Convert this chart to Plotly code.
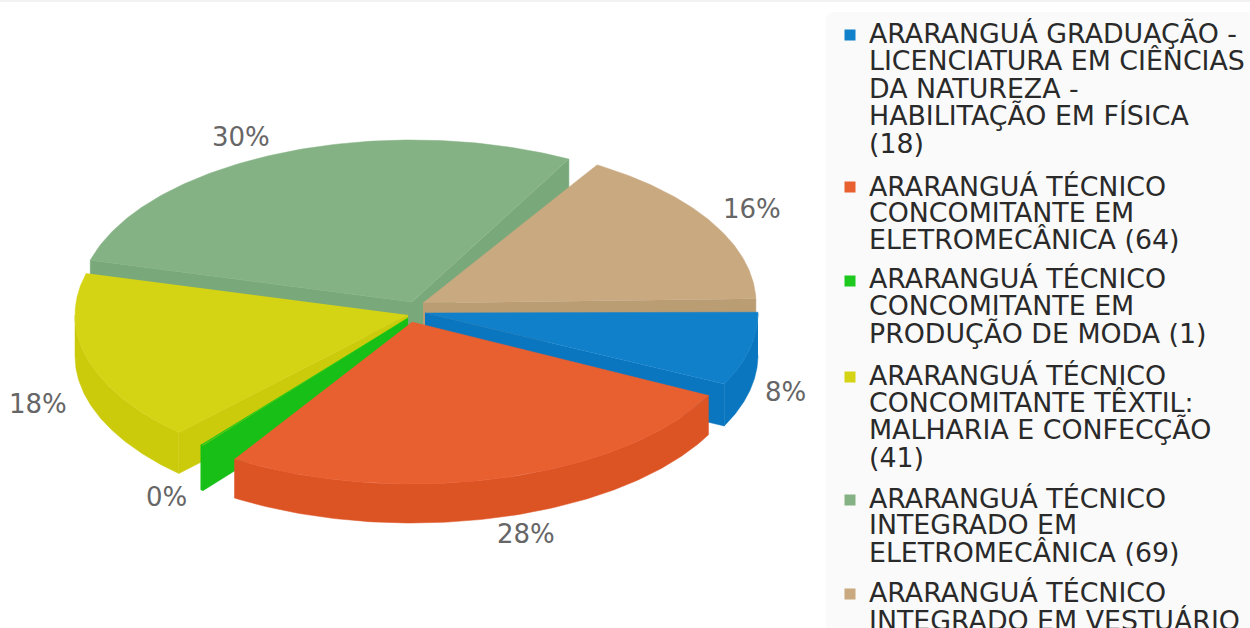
import numpy as np
import plotly.graph_objects as go

# ---- data
categories = [
    "ARARANGUÁ GRADUAÇÃO - LICENCIATURA EM CIÊNCIAS DA NATUREZA - HABILITAÇÃO EM FÍSICA",
    "ARARANGUÁ TÉCNICO CONCOMITANTE EM ELETROMECÂNICA",
    "ARARANGUÁ TÉCNICO CONCOMITANTE EM PRODUÇÃO DE MODA",
    "ARARANGUÁ TÉCNICO CONCOMITANTE TÊXTIL: MALHARIA E CONFECÇÃO",
    "ARARANGUÁ TÉCNICO INTEGRADO EM ELETROMECÂNICA",
    "ARARANGUÁ TÉCNICO INTEGRADO EM VESTUÁRIO",
]
values = [18, 64, 1, 41, 69, 36]
legend_lines = [
    ["ARARANGUÁ GRADUAÇÃO -", "LICENCIATURA EM CIÊNCIAS", "DA NATUREZA -", "HABILITAÇÃO EM FÍSICA", "(18)"],
    ["ARARANGUÁ TÉCNICO", "CONCOMITANTE EM", "ELETROMECÂNICA (64)"],
    ["ARARANGUÁ TÉCNICO", "CONCOMITANTE EM", "PRODUÇÃO DE MODA (1)"],
    ["ARARANGUÁ TÉCNICO", "CONCOMITANTE TÊXTIL:", "MALHARIA E CONFECÇÃO", "(41)"],
    ["ARARANGUÁ TÉCNICO", "INTEGRADO EM", "ELETROMECÂNICA (69)"],
    ["ARARANGUÁ TÉCNICO", "INTEGRADO EM VESTUÁRIO"],
]

# ---- styles and layout of the drawing
top_colors = ["#1180cb", "#e85f30", "#1dc91d", "#d4d415", "#85b285", "#c8a980"]
side_colors = ["#0a76c0", "#dc5324", "#17bf17", "#cbcb0c", "#79a87a", "#bb9d74"]
apex_x = [425, 412, 408, 408, 412, 423]
apex_y = [313, 322, 318, 315, 302, 303]
nudge_start = [-0.5, -1.3, -0.9, 3.0, 0.0, -1.9]
nudge_end = [-2.3, -6.7, -2.0, 0.0, -5.3, -1.5]
depths = [42, 39, 45, 41, 40, 40]
draw_order = [4, 5, 0, 3, 2, 1]
RX, RY = 333, 162
label_x = [785, 526, 166, 38, 241, 752]
label_y = [392, 534, 497, 404, 137, 209]
legend_swatch_y = [35, 187, 281, 377, 500, 594]
legend_line_y = [
    [33, 60, 88, 115, 143],
    [186, 212, 239],
    [278, 305, 333],
    [375, 402, 429, 457],
    [498, 524, 552],
    [592, 620],
]
FONT = "DejaVu Sans"
W, H = 1250, 628

total = sum(values)
edges = np.cumsum([0] + values) / total * 360.0


def poly(fig, xs, ys, color):
    fig.add_trace(go.Scatter(x=list(xs), y=list(ys), mode="lines", fill="toself",
                             fillcolor=color, line=dict(color=color, width=0.5),
                             hoverinfo="skip", showlegend=False))


fig = go.Figure()
for i in draw_order:
    a0 = edges[i] + nudge_start[i]
    a1 = edges[i + 1] + nudge_end[i]
    cx, cy, d = apex_x[i], apex_y[i], depths[i]
    th = np.radians(np.linspace(a0, a1, 120))
    ax = cx + RX * np.cos(th)
    ay = cy + RY * np.sin(th)
    # radial cut faces that look towards the viewer
    if np.cos(th[0]) < 0:
        poly(fig, [cx, ax[0], ax[0], cx], [cy, ay[0], ay[0] + d, cy + d], side_colors[i])
    if np.cos(th[-1]) > 0:
        poly(fig, [cx, ax[-1], ax[-1], cx], [cy, ay[-1], ay[-1] + d, cy + d], side_colors[i])
    # outer wall, front half only
    front = np.sin(th) > 0
    if front.any():
        fx, fy = ax[front], ay[front]
        poly(fig, np.r_[fx, fx[::-1]], np.r_[fy, fy[::-1] + d], side_colors[i])
    # top face
    poly(fig, np.r_[cx, ax], np.r_[cy, ay], top_colors[i])

# legend swatches
fig.add_trace(go.Scatter(x=[850] * len(values), y=legend_swatch_y, mode="markers",
                         marker=dict(symbol="square", size=11, color=top_colors, line=dict(width=0)),
                         hoverinfo="skip", showlegend=False))

annotations = []
for i, v in enumerate(values):
    annotations.append(dict(x=label_x[i], y=label_y[i], text=f"{round(v / total * 100)}%",
                            showarrow=False, xanchor="center", yanchor="middle",
                            font=dict(family=FONT, size=26, color="#666666")))
for ys, lines in zip(legend_line_y, legend_lines):
    for y, line in zip(ys, lines):
        annotations.append(dict(x=867, y=y, text=line, showarrow=False,
                                xanchor="left", yanchor="middle",
                                font=dict(family=FONT, size=26.8, color="#2a2a2a")))

shapes = [
    dict(type="path", path=f"M 826 {H + 5} L 826 20 Q 826 12 834 12 L {W + 5} 12 L {W + 5} {H + 5} Z",
         fillcolor="#fafafa", line=dict(width=0), layer="below"),
    dict(type="rect", x0=0, x1=W, y0=0, y1=2, fillcolor="#f2f2f2", line=dict(width=0), layer="below"),
]

fig.update_layout(
    width=W, height=H, margin=dict(l=0, r=0, t=0, b=0),
    paper_bgcolor="white", plot_bgcolor="white", showlegend=False,
    xaxis=dict(range=[0, W], visible=False, fixedrange=True),
    yaxis=dict(range=[H, 0], visible=False, fixedrange=True),
    annotations=annotations, shapes=shapes,
)
fig.write_html("out.html", config={"displayModeBar": False},
               post_script="document.body.style.margin='0';document.body.style.overflow='hidden';")
